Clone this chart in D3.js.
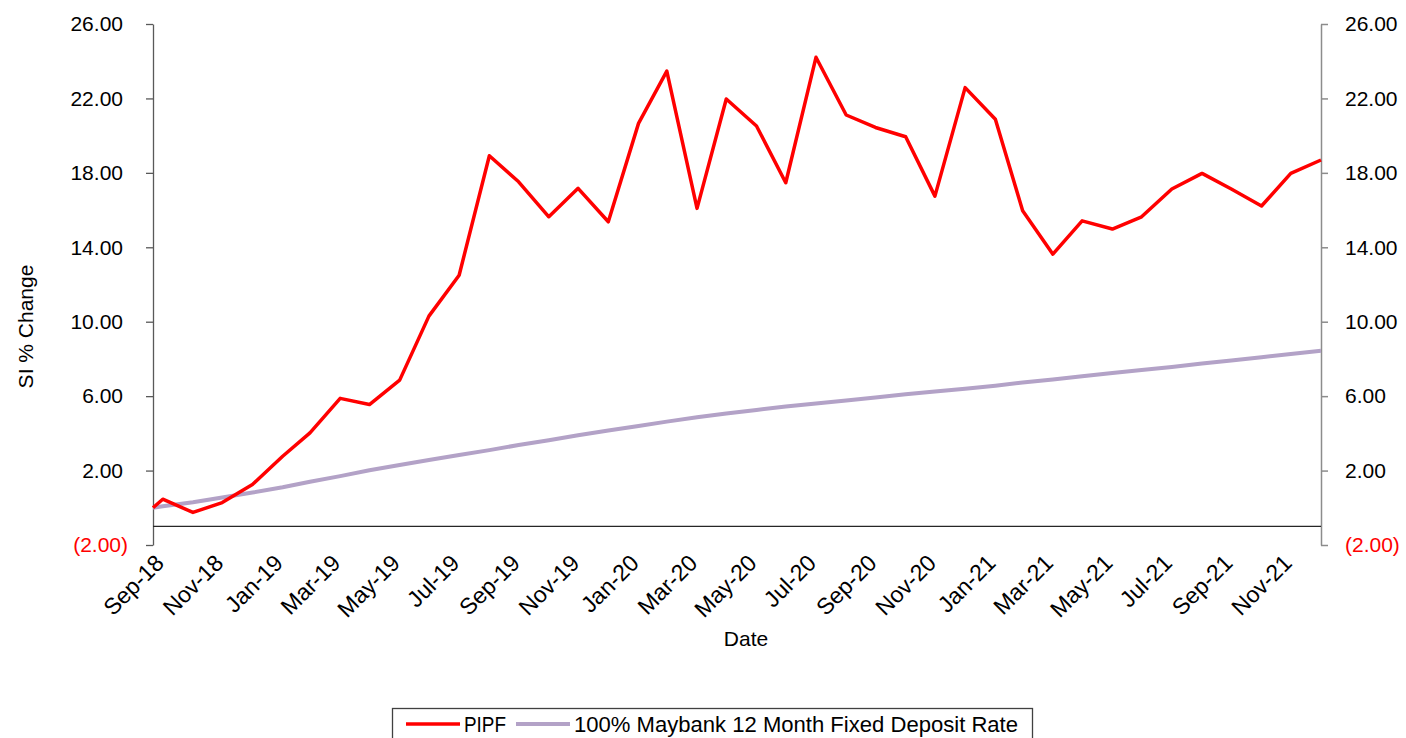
<!DOCTYPE html>
<html>
<head>
<meta charset="utf-8">
<script src="https://cdn.jsdelivr.net/npm/d3@7"></script>
<style>
  body { margin: 0; background: #ffffff; }
  svg { display: block; }
  text { font-family: "Liberation Sans", Arial, sans-serif; }
</style>
</head>
<body>
<div id="grafico"></div>
<script>
// Fechas de cada punto (inicio + fin de cada mes)
const fechas = ["2018-09-20","2018-09-30","2018-10-31","2018-11-30","2018-12-31",
  "2019-01-31","2019-02-28","2019-03-31","2019-04-30","2019-05-31","2019-06-30",
  "2019-07-31","2019-08-31","2019-09-30","2019-10-31","2019-11-30","2019-12-31",
  "2020-01-31","2020-02-29","2020-03-31","2020-04-30","2020-05-31","2020-06-30",
  "2020-07-31","2020-08-31","2020-09-30","2020-10-31","2020-11-30","2020-12-31",
  "2021-01-31","2021-02-28","2021-03-31","2021-04-30","2021-05-31","2021-06-30",
  "2021-07-31","2021-08-31","2021-09-30","2021-10-31","2021-11-30","2021-12-31"];

// Serie PIPF
const valoresPIPF = [0.00, 0.46, -0.25, 0.28, 1.25, 2.77, 4.03, 5.88, 5.55, 6.86, 10.30,
  12.50, 18.92, 17.52, 15.64, 17.17, 15.37, 20.66, 23.47, 16.09, 21.97, 20.52, 17.47,
  24.21, 21.11, 20.44, 19.94, 16.75, 22.58, 20.88, 15.96, 13.63, 15.42, 14.98, 15.64,
  17.13, 17.97, 17.13, 16.22, 17.97, 18.69];

// Serie depósito a plazo fijo Maybank
const valoresMaybank = [0.00, 0.08, 0.30, 0.55, 0.82, 1.10, 1.40, 1.70, 2.02, 2.30, 2.57,
  2.84, 3.10, 3.37, 3.63, 3.90, 4.15, 4.40, 4.63, 4.86, 5.07, 5.26, 5.44, 5.60, 5.77,
  5.93, 6.10, 6.25, 6.40, 6.56, 6.73, 6.90, 7.07, 7.24, 7.40, 7.57, 7.75, 7.92, 8.09,
  8.27, 8.44];

// Marcas del eje Y
const ticksY = [-2, 2, 6, 10, 14, 18, 22, 26];

const series = [
  { nombre: "PIPF", valores: valoresPIPF, color: "#ff0000", grosor: 3.5 },
  { nombre: "100% Maybank 12 Month Fixed Deposit Rate", valores: valoresMaybank, color: "#b3a2c7", grosor: 4 }
];

const ancho = 1406, alto = 738;
const izq = 153, der = 1321, arriba = 24, abajo = 545;

const parse = d3.timeParse("%Y-%m-%d");
const fechasObj = fechas.map(parse);

const svg = d3.select("#grafico").append("svg")
  .attr("width", ancho)
  .attr("height", alto);

const x = d3.scaleTime()
  .domain([fechasObj[0], fechasObj[fechasObj.length - 1]])
  .range([izq, der]);

const y = d3.scaleLinear()
  .domain([-2, 26])
  .range([abajo, arriba]);

const formatoY = d => d < 0 ? "(" + d3.format(".2f")(-d) + ")" : d3.format(".2f")(d);

// Eje izquierdo
const ejeIzq = svg.append("g")
  .attr("transform", `translate(${izq},0)`)
  .call(d3.axisLeft(y).tickValues(ticksY).tickSize(7).tickSizeOuter(0).tickPadding(23).tickFormat(formatoY));
ejeIzq.select(".domain").attr("stroke", "#595959").attr("stroke-width", 1.3);
ejeIzq.selectAll(".tick line").attr("stroke", "#595959").attr("stroke-width", 1.3);
ejeIzq.selectAll(".tick text")
  .attr("font-size", 21)
  .attr("font-family", "Liberation Sans, Arial, sans-serif")
  .attr("dx", d => d < 0 ? 5 : 0)
  .attr("fill", d => d < 0 ? "#ff0000" : "#000000");

// Eje derecho
const ejeDer = svg.append("g")
  .attr("transform", `translate(${der},0)`)
  .call(d3.axisRight(y).tickValues(ticksY).tickSize(7).tickSizeOuter(0).tickPadding(17).tickFormat(formatoY));
ejeDer.select(".domain").attr("stroke", "#8c8c8c").attr("stroke-width", 1.5);
ejeDer.selectAll(".tick line").attr("stroke", "#8c8c8c").attr("stroke-width", 1.5);
ejeDer.selectAll(".tick text")
  .attr("font-size", 21)
  .attr("font-family", "Liberation Sans, Arial, sans-serif")
  .attr("fill", d => d < 0 ? "#ff0000" : "#000000");

// Línea horizontal del eje de categorías
svg.append("line")
  .attr("x1", izq).attr("x2", der)
  .attr("y1", y(-1)).attr("y2", y(-1))
  .attr("stroke", "#262626")
  .attr("stroke-width", 1.3);

// Etiquetas del eje X, cada dos meses
const ticksX = d3.range(0, 20).map(i => d3.timeMonth.offset(fechasObj[0], i * 2));
const formatoX = d3.timeFormat("%b-%y");
svg.append("g")
  .selectAll("text")
  .data(ticksX)
  .join("text")
  .attr("transform", d => `translate(${x(d) + 1},${abajo + 8}) rotate(-45)`)
  .attr("text-anchor", "end")
  .attr("dy", "0.7em")
  .attr("font-size", 23)
  .attr("fill", "#000000")
  .text(d => formatoX(d));

// Títulos de los ejes
svg.append("text")
  .attr("transform", `translate(33,${(arriba + abajo) / 2 + 42}) rotate(-90)`)
  .attr("text-anchor", "middle")
  .attr("font-size", 21)
  .text("SI % Change");

svg.append("text")
  .attr("x", 746)
  .attr("y", 646)
  .attr("text-anchor", "middle")
  .attr("font-size", 21)
  .text("Date");

// Dibujar líneas
const linea = d3.line()
  .x((d, i) => x(fechasObj[i]))
  .y(d => y(d));

series.slice().reverse().forEach(s => {
  svg.append("path")
    .datum(s.valores)
    .attr("fill", "none")
    .attr("stroke", s.color)
    .attr("stroke-width", s.grosor)
    .attr("stroke-linejoin", "round")
    .attr("d", linea);
});

// Leyenda
const leyenda = svg.append("g");
leyenda.append("rect")
  .attr("x", 392.5).attr("y", 708.5)
  .attr("width", 640).attr("height", 40)
  .attr("fill", "#ffffff")
  .attr("stroke", "#404040")
  .attr("stroke-width", 1.3);

const posLeyenda = [406, 516];
series.forEach((s, i) => {
  const px = posLeyenda[i];
  leyenda.append("line")
    .attr("x1", px).attr("x2", px + 54)
    .attr("y1", 724).attr("y2", 724)
    .attr("stroke", s.color)
    .attr("stroke-width", s.grosor);
  leyenda.append("text")
    .attr("x", px + 58)
    .attr("y", 732)
    .attr("font-size", 22)
    .attr("textLength", i === 0 ? 42 : 444)
    .attr("lengthAdjust", "spacingAndGlyphs")
    .text(s.nombre);
});
</script>
</body>
</html>
